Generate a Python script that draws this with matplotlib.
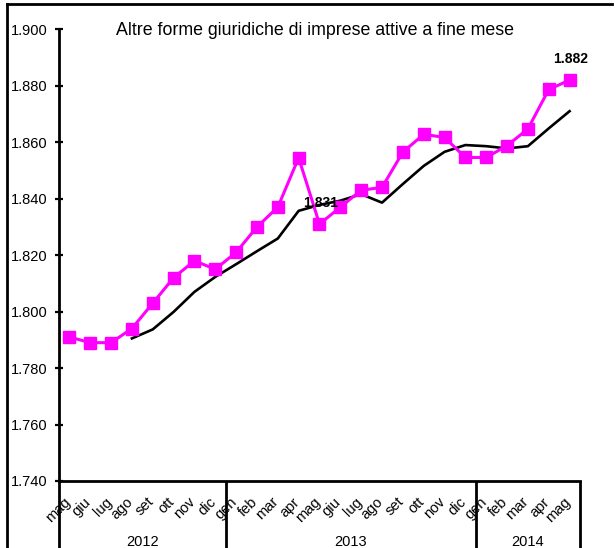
import matplotlib
matplotlib.use("Agg")
import matplotlib.pyplot as plt
import matplotlib.transforms as mtransforms
from matplotlib.lines import Line2D

plt.rcParams['font.family'] = ['Liberation Sans', 'DejaVu Sans']

months = ["mag", "giu", "lug", "ago", "set", "ott", "nov", "dic",
          "gen", "feb", "mar", "apr", "mag", "giu", "lug", "ago", "set", "ott", "nov", "dic",
          "gen", "feb", "mar", "apr", "mag"]
years = ["2012", "2013", "2014"]
year_counts = [8, 12, 5]

monthly = [1.791, 1.789, 1.789, 1.794, 1.803, 1.812, 1.818, 1.815,
           1.821, 1.830, 1.837, 1.8545, 1.831, 1.837, 1.843, 1.844, 1.8565, 1.8628, 1.8617, 1.8546,
           1.8546, 1.8588, 1.8647, 1.8787, 1.882]
trend = [None, None, None, 1.7905, 1.7937, 1.7999, 1.807, 1.8123,
         1.8168, 1.8214, 1.8259, 1.8357, 1.8378, 1.8393, 1.8416, 1.8386, 1.8452, 1.8516, 1.8566, 1.859,
         1.8586, 1.8578, 1.8586, 1.8649, 1.871]

yticks = [1.740, 1.760, 1.780, 1.800, 1.820, 1.840, 1.860, 1.880, 1.900]
title = "Altre forme giuridiche di imprese attive a fine mese"
labelled = [12, 24]

fig = plt.figure(figsize=(6.15, 5.48), dpi=100)
ax = fig.add_axes([0.0959, 0.1223, 0.9431 - 0.0959, 0.9465 - 0.1223])

x = list(range(len(months)))
tx = [i for i, v in zip(x, trend) if v is not None]
tv = [v for v in trend if v is not None]
ax.plot(tx, tv, color='black', lw=1.9, zorder=2)
ax.plot(x, monthly, color='#FF00FF', lw=2.2, marker='s', markersize=8.5,
        markeredgecolor='#FF00FF', zorder=3)

for i in labelled:
    ax.annotate(f"{monthly[i]:.3f}", (i, monthly[i]), xytext=(1, 10),
                textcoords='offset points', ha='center', va='bottom',
                fontsize=10, fontweight='bold', zorder=4)

ax.set_xlim(-0.5, len(months) - 0.5)
ax.set_ylim(yticks[0], yticks[-1])
ax.set_yticks(yticks)
ax.set_yticklabels([f"{v:.3f}" for v in yticks], fontsize=10.5)
ax.tick_params(axis='y', direction='inout', length=6, width=1.6, pad=5)

ax.set_xticks(x)
ax.set_xticklabels(months, rotation=45, ha='right', va='center',
                   rotation_mode='anchor', fontsize=10.5)
ax.tick_params(axis='x', length=0, pad=13.5)
for lab in ax.get_xticklabels():
    lab.set_transform(lab.get_transform() + mtransforms.ScaledTranslation(-1.0/72, 0, fig.dpi_scale_trans))

for s in ['top', 'right']:
    ax.spines[s].set_visible(False)
ax.spines['left'].set_linewidth(2.0)
ax.spines['bottom'].set_linewidth(2.0)

trans = mtransforms.blended_transform_factory(ax.transData, ax.transAxes)
bounds = [-0.5]
for c in year_counts:
    bounds.append(bounds[-1] + c)
for b in bounds:
    ax.plot([b, b], [0, -0.16], transform=trans, color='black', lw=2.0,
            clip_on=False, solid_capstyle='butt')
for yr, b0, b1 in zip(years, bounds[:-1], bounds[1:]):
    ax.text((b0 + b1) / 2, -0.135, yr, transform=trans, ha='center', va='center',
            fontsize=10.5)

ax.text(0.491, 0.998, title, transform=ax.transAxes, ha='center', va='center',
        fontsize=12.8)

# outer frame (left and top)
fig.add_artist(Line2D([7/615, 7/615], [0, 1 - 4/548], transform=fig.transFigure,
                      color='black', lw=2.0))
fig.add_artist(Line2D([7/615, 612/615], [1 - 4/548, 1 - 4/548], transform=fig.transFigure,
                      color='black', lw=2.0))

fig.savefig("out.png", dpi=100)
